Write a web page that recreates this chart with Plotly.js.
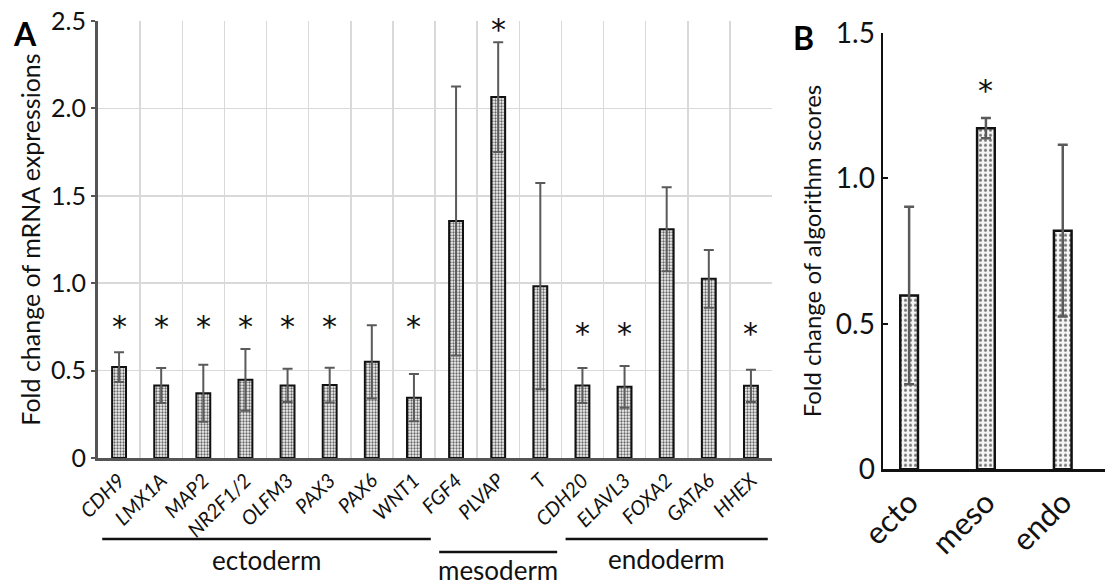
<!DOCTYPE html>
<html><head><meta charset="utf-8">
<script src="https://cdn.plot.ly/plotly-3.0.1.min.js"></script>
<style>html,body{margin:0;padding:0;background:#fff}#chart{width:1105px;height:585px}</style>
</head><body><div id="chart"></div>
<script>
// Panel A data
const genes = ["CDH9","LMX1A","MAP2","NR2F1/2","OLFM3","PAX3","PAX6","WNT1","FGF4","PLVAP","T","CDH20","ELAVL3","FOXA2","GATA6","HHEX"];
const geneLabels = genes.map(g => "<i>" + g + "</i>");
const foldA = [0.52,0.415,0.37,0.447,0.415,0.417,0.55,0.345,1.356,2.065,0.983,0.415,0.407,1.309,1.025,0.413];
const errA  = [0.085,0.10,0.163,0.177,0.095,0.10,0.21,0.135,0.77,0.314,0.59,0.10,0.12,0.24,0.165,0.092];
const sigA  = [true,true,true,true,true,true,false,true,false,true,false,true,true,false,false,true];
const starYA = [0.75,0.75,0.75,0.75,0.75,0.75,0,0.75,0,2.45,0,0.71,0.71,0,0,0.71];
const yTickValsA = [0,0.5,1.0,1.5,2.0,2.5];
const yTickTextA = ["0","0.5","1.0","1.5","2.0","2.5"];
const groupsA = [
  {name:"ectoderm", first:"CDH9", last:"WNT1"},
  {name:"mesoderm", first:"FGF4", last:"T"},
  {name:"endoderm", first:"CDH20", last:"HHEX"}
];
// Panel B data
const layersB = ["ecto","meso","endo"];
const scoreB = [0.597,1.172,0.82];
const errB = [0.305,0.035,0.295];
const sigB = [false,true,false];
const starYB = [0,1.30,0];
const yTickValsB = [0,0.5,1.0,1.5];
const yTickTextB = ["0","0.5","1.0","1.5"];

const FONT = "Lato, 'Open Sans', sans-serif";
const W = 1105, H = 585;
const axA = {l:98, r:772, t:21, b:458};
const axB = {l:883, r:1105, t:32.7, b:469.3};

const traceA = {
  type:"bar", x:geneLabels, y:foldA, width:0.33,
  xaxis:"x", yaxis:"y",
  marker:{color:"#e8e8e8", line:{color:"#111", width:2},
    pattern:{shape:".", fgcolor:"#666", bgcolor:"#f4f4f4", size:3, solidity:0.45}},
  error_y:{type:"data", array:errA, visible:true, color:"#5a5a5a", thickness:2, width:5},
  hoverinfo:"skip"
};
const traceB = {
  type:"bar", x:layersB, y:scoreB, width:0.23,
  xaxis:"x2", yaxis:"y2",
  marker:{color:"#eee", line:{color:"#111", width:2.5},
    pattern:{shape:".", fgcolor:"#777", bgcolor:"#f6f6f6", size:5, solidity:0.3}},
  error_y:{type:"data", array:errB, visible:true, color:"#5a5a5a", thickness:2.5, width:5},
  hoverinfo:"skip"
};

const STAR = {family:"'DejaVu Sans', sans-serif", size:30, color:"#111"};
const annotations = [];
geneLabels.forEach((g,i) => { if (sigA[i]) annotations.push({x:g, y:starYA[i], xref:"x", yref:"y", text:"*", showarrow:false, xanchor:"center", yanchor:"middle", font:STAR}); });
layersB.forEach((g,i) => { if (sigB[i]) annotations.push({x:g, y:starYB[i], xref:"x2", yref:"y2", text:"*", showarrow:false, xanchor:"center", yanchor:"middle", font:STAR}); });
annotations.push({x:25/W, y:1-33/H, xref:"paper", yref:"paper", xanchor:"center", yanchor:"middle", text:"<b>A</b>", showarrow:false, font:{family:FONT,size:32,color:"#000"}});
annotations.push({x:803/W, y:1-37/H, xref:"paper", yref:"paper", xanchor:"center", yanchor:"middle", text:"<b>B</b>", showarrow:false, font:{family:FONT,size:32,color:"#000"}});

// group lines/labels (convert pixel coords to paper)
const shapes = [];
const groupLineY = [539, 552, 539];
const groupTextY = [560, 570, 559];
const catW = (axA.r - axA.l) / genes.length;
groupsA.forEach((gr, k) => {
  const i0 = genes.indexOf(gr.first), i1 = genes.indexOf(gr.last);
  const x0 = axA.l + (i0 + 0.1) * catW, x1 = axA.l + (i1 + 0.9) * catW;
  shapes.push({type:"line", xref:"paper", yref:"paper", x0:x0/W, x1:x1/W, y0:1-groupLineY[k]/H, y1:1-groupLineY[k]/H, line:{color:"#111", width:2.5}});
  annotations.push({x:((x0+x1)/2)/W, y:1-groupTextY[k]/H, xref:"paper", yref:"paper", xanchor:"center", yanchor:"middle", text:gr.name, showarrow:false, font:{family:FONT,size:26,color:"#111"}});
});

const layout = {
  width:W, height:H, margin:{l:0,r:0,t:0,b:0}, paper_bgcolor:"#fff", plot_bgcolor:"rgba(0,0,0,0)",
  showlegend:false, font:{family:FONT, color:"#111"},
  xaxis:{domain:[axA.l/W, axA.r/W], type:"category", tickson:"boundaries", showgrid:true, gridcolor:"#d9d9d9", gridwidth:1.5,
    showline:true, linecolor:"#555", linewidth:3, ticks:"", tickangle:-45, tickfont:{family:FONT,size:20,color:"#111"}, automargin:false,
    range:[-0.5, genes.length - 0.5], fixedrange:true},
  yaxis:{domain:[1-axA.b/H, 1-axA.t/H], range:[0,2.5], tickvals:yTickValsA, ticktext:yTickTextA, showgrid:true, gridcolor:"#d9d9d9", gridwidth:1.5,
    showline:true, linecolor:"#555", linewidth:3, ticks:"outside", ticklen:4, tickwidth:2, tickcolor:"#555", zeroline:false,
    tickfont:{family:FONT,size:25,color:"#111"}, automargin:false,
    title:{text:"Fold change of mRNA expressions", font:{family:FONT,size:25,color:"#111"}, standoff:4}},
  xaxis2:{domain:[axB.l/W, axB.r/W], anchor:"y2", type:"category", range:[-0.34, 2.55], showgrid:false, showline:true, linecolor:"#111", linewidth:2.5,
    ticks:"", tickangle:-45, tickfont:{family:FONT,size:31,color:"#111"}, automargin:false},
  yaxis2:{domain:[1-axB.b/H, 1-axB.t/H], anchor:"x2", range:[0,1.5], tickvals:yTickValsB, ticktext:yTickTextB, showgrid:false, zeroline:false,
    showline:true, linecolor:"#111", linewidth:2.5, ticks:"inside", ticklen:5, tickwidth:2.5, tickcolor:"#111",
    tickfont:{family:FONT,size:28,color:"#111"}, automargin:false,
    title:{text:"Fold change of algorithm scores", font:{family:FONT,size:24,color:"#111"}, standoff:8}},
  shapes:shapes, annotations:annotations
};
Plotly.newPlot("chart", [traceA, traceB], layout, {staticPlot:true});
</script></body></html>
